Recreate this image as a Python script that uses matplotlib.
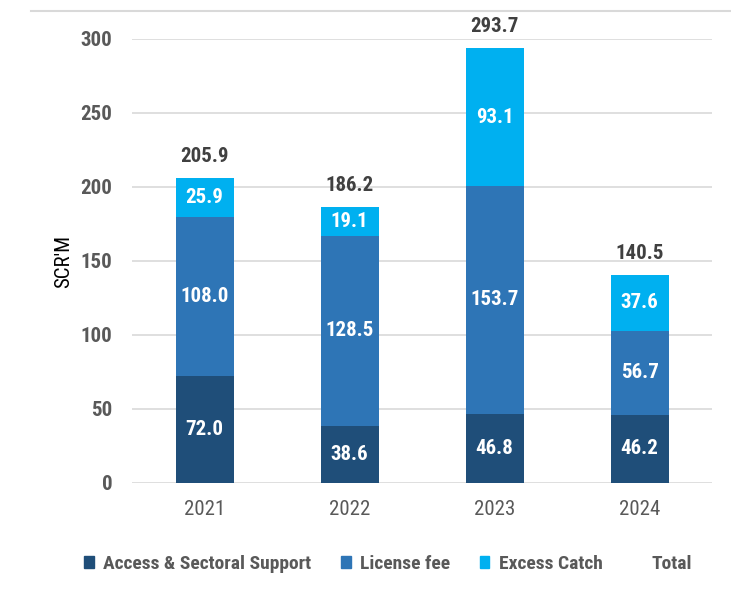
import matplotlib
matplotlib.use("Agg")
import matplotlib.pyplot as plt
from matplotlib import font_manager
from matplotlib.patches import Patch
from matplotlib.lines import Line2D

years = ["2021", "2022", "2023", "2024"]
access = [72.0, 38.6, 46.8, 46.2]
license_fee = [108.0, 128.5, 153.7, 56.7]
excess = [25.9, 19.1, 93.1, 37.6]
totals = [205.9, 186.2, 293.7, 140.5]
series_names = ["Access & Sectoral Support", "License fee", "Excess Catch", "Total"]
colors = ["#1F4E79", "#2E75B6", "#00B0F0"]

avail = {f.name for f in font_manager.fontManager.ttflist}
fam = None
for cand in ["Liberation Sans Narrow", "Roboto Condensed", "Open Sans Condensed", "Lato", "Noto Sans"]:
    if cand in avail:
        fam = cand
        break
plt.rcParams["font.family"] = [fam, "DejaVu Sans"]

fig = plt.figure(figsize=(7.31, 5.94), dpi=100)
ax = fig.add_axes([132/731, 1-483/594, (712-132)/731, (483-39)/594])

x = list(range(len(years)))
w = 0.4
bottoms2 = access
bottoms3 = [a + b for a, b in zip(access, license_fee)]
b1 = ax.bar(x, access, w, color=colors[0], zorder=3)
b2 = ax.bar(x, license_fee, w, bottom=bottoms2, color=colors[1], zorder=3)
b3 = ax.bar(x, excess, w, bottom=bottoms3, color=colors[2], zorder=3)

for bars in (b1, b2, b3):
    ax.bar_label(bars, labels=[f"{v:.1f}" for v in bars.datavalues], label_type="center",
                 color="white", fontsize=15, fontweight="bold")

tops = [a + b + c for a, b, c in zip(access, license_fee, excess)]
for xi, t, lab in zip(x, tops, totals):
    ax.annotate(f"{lab:.1f}", (xi, t), xytext=(0, 9), textcoords="offset points",
                ha="center", va="bottom", fontsize=15, fontweight="bold", color="#404040")

ax.set_xlim(-0.5, len(years) - 0.5)
ax.set_ylim(0, 300)
ax.set_yticks([0, 50, 100, 150, 200, 250, 300])
ax.set_xticks(x)
ax.set_xticklabels(years)
ax.yaxis.grid(True, color="#D9D9D9", linewidth=1.2, zorder=0)
ax.set_axisbelow(True)
for s in ax.spines.values():
    s.set_visible(False)
ax.tick_params(axis="both", length=0)
ax.tick_params(axis="y", pad=14, labelsize=15, labelcolor="#595959")
ax.tick_params(axis="x", pad=12, labelsize=15, labelcolor="#595959")
for t in ax.get_yticklabels():
    t.set_fontweight("bold")
ax.set_ylabel("SCR'M", fontsize=15, color="black")
ax.yaxis.set_label_coords((73-132)/580, 0.5)

fig.add_artist(Line2D([31/731, 1.0], [1-11/594, 1-11/594], color="#D9D9D9", linewidth=1.5))

handles = [Patch(color=colors[0]), Patch(color=colors[1]), Patch(color=colors[2]),
           Line2D([], [], color="none")]
leg = fig.legend(handles, series_names, loc="center", bbox_to_anchor=(388/731, 1-564/594), ncol=4,
                 frameon=False, handlelength=0.5, handleheight=0.6, handletextpad=0.5,
                 columnspacing=1.5, prop={"size": 14, "weight": "bold"})
for t in leg.get_texts():
    t.set_color("#595959")

fig.savefig("out.png", dpi=100)
